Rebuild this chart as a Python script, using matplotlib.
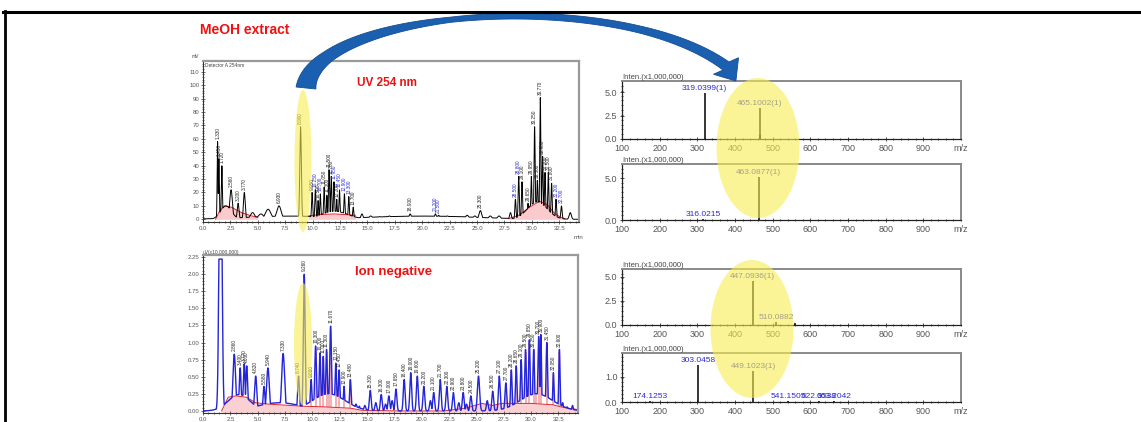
import numpy as np
import matplotlib
matplotlib.use("Agg")
import matplotlib.pyplot as plt
from matplotlib.patches import Ellipse, Polygon
from matplotlib.lines import Line2D
from matplotlib.ticker import MultipleLocator, FixedLocator, FormatStrFormatter

plt.rcParams['font.family'] = ['Liberation Sans', 'DejaVu Sans']

W, H = 1141, 422

# ---------------- UV 254 nm chromatogram (MeOH extract) ----------------
# retention time (min), peak height (mV), peak sigma (min)
uv_rt = [1.33, 1.45, 1.72, 2.10, 2.56, 3.20, 3.77, 4.52, 5.28, 5.94, 6.93, 8.90,
         9.95, 10.25, 10.50, 10.70, 11.05, 11.30, 11.50, 11.70, 11.95, 12.20, 12.45,
         12.90, 13.30, 13.70, 12.00, 14.50,
         15.30, 16.10, 17.00, 18.00, 18.90, 19.80, 20.60, 21.20, 21.50, 22.30, 23.20,
         24.10, 24.80, 25.30, 26.20, 27.00, 8.00, 20.00,
         28.05, 28.50, 28.80, 29.10, 29.65, 29.95, 30.25, 30.50, 30.77, 30.98, 31.20,
         31.50, 31.80, 32.20, 32.70, 33.50, 30.50]
uv_height = [58, 45, 40, 10, 22, 12, 20, 5, 4, 7.5, 10, 69,
             20, 22, 14, 19, 24, 18, 37, 32, 28, 15, 22,
             19, 17, 9, 6, 4,
             2.5, 2, 2.5, 2, 4, 2.5, 2, 4, 3, 2.5, 2,
             3, 2.5, 6.5, 2.5, 2.5, 2.4, 2.4,
             5, 15, 32, 28, 12, 32, 69, 29, 91, 47, 35,
             35, 27, 15, 10, 5, 13]
uv_sigma = [0.04, 0.04, 0.05, 0.5, 0.12, 0.08, 0.08, 0.2, 0.25, 0.25, 0.2, 0.07,
            0.05, 0.05, 0.04, 0.05, 0.05, 0.04, 0.05, 0.05, 0.05, 0.04, 0.05,
            0.05, 0.05, 0.05, 1.2, 0.1,
            0.15, 0.15, 0.15, 0.15, 0.1, 0.15, 0.15, 0.08, 0.08, 0.15, 0.15,
            0.15, 0.15, 0.12, 0.15, 0.15, 4.0, 5.0,
            0.08, 0.05, 0.05, 0.05, 0.05, 0.05, 0.05, 0.05, 0.05, 0.05, 0.05,
            0.05, 0.05, 0.05, 0.06, 0.1, 0.9]
uv_blue_rt = [10.25, 10.70, 11.95, 12.45, 12.90, 13.30, 21.20, 21.50, 28.50, 28.80, 32.20, 32.70]

# red integration baselines
uv_base1_t = [1.15, 1.5, 1.95, 2.6, 3.5, 4.4, 5.0]
uv_base1_v = [0, 6, 10, 9, 5, 2.6, 1.5]
uv_base2_t = [9.6, 10.5, 12.0, 13.0, 13.9]
uv_base2_v = [2.5, 3.5, 4.0, 3.5, 3.0]
uv_base3_t = [27.9, 28.8, 29.8, 30.7, 31.4, 32.0, 32.6, 33.0]
uv_base3_v = [0.5, 3, 9, 13.5, 11, 5, 1.5, 0.5]

# ---------------- Ion negative TIC ----------------
ion_rt = [1.60, 2.86, 3.40, 3.77, 4.00, 4.82, 5.58, 5.94, 7.33, 8.74, 9.26,
          9.89, 10.30, 10.70, 11.00, 11.30, 11.67, 12.15, 12.45, 12.90, 13.48, 14.30,
          15.30, 16.30, 17.00, 17.65, 18.40, 19.00, 19.60, 20.20, 21.10, 21.70, 22.30,
          22.90, 23.80, 24.50, 25.20, 26.50, 27.10, 27.70, 28.20, 28.65, 29.10, 29.50,
          29.85, 30.25, 30.70, 30.90, 31.45, 32.05, 32.60, 32.90,
          14.00, 14.80, 15.80, 16.70, 17.30, 20.80, 23.40, 24.10, 26.00, 33.30, 33.80,
          3.30, 7.00, 11.50, 30.50]
ion_height = [5.0, 0.83, 0.63, 0.69, 0.66, 0.51, 0.36, 0.63, 0.84, 0.51, 2.00,
              0.46, 0.95, 0.85, 0.80, 0.90, 1.24, 0.70, 0.60, 0.36, 0.46, 0.07,
              0.30, 0.24, 0.22, 0.32, 0.46, 0.56, 0.51, 0.36, 0.27, 0.46, 0.36,
              0.27, 0.27, 0.22, 0.51, 0.29, 0.51, 0.41, 0.60, 0.66, 0.75, 0.90,
              1.04, 0.90, 1.09, 1.12, 1.00, 0.56, 0.90, 0.12,
              0.10, 0.08, 0.12, 0.10, 0.15, 0.15, 0.12, 0.10, 0.15, 0.06, 0.08,
              0.24, 0.12, 0.25, 0.25]
ion_sigma = [0.12, 0.12, 0.08, 0.08, 0.08, 0.1, 0.08, 0.12, 0.13, 0.08, 0.08,
             0.07, 0.08, 0.07, 0.06, 0.07, 0.08, 0.07, 0.07, 0.06, 0.07, 0.06,
             0.08, 0.08, 0.08, 0.08, 0.08, 0.08, 0.08, 0.08, 0.08, 0.08, 0.08,
             0.08, 0.08, 0.08, 0.1, 0.08, 0.08, 0.08, 0.07, 0.07, 0.07, 0.07,
             0.07, 0.07, 0.07, 0.06, 0.07, 0.06, 0.06, 0.06,
             0.08, 0.08, 0.08, 0.08, 0.08, 0.08, 0.08, 0.08, 0.08, 0.06, 0.06,
             1.0, 2.0, 1.5, 1.5]
ion_base_t = [1.7, 2.3, 3.0, 4.0, 4.8, 6.0, 8.0, 9.0, 11.0, 13.5, 14.5, 18.0,
              22.0, 24.0, 25.5, 26.5, 27.3, 30.0, 32.0, 33.0, 34.3]
ion_base_v = [0.0, 0.20, 0.22, 0.20, 0.12, 0.10, 0.08, 0.07, 0.06, 0.04, 0.01, 0.0,
              0.0, 0.04, 0.11, 0.08, 0.11, 0.11, 0.09, 0.05, 0.02]

# ---------------- MS spectra (m/z, intensity x1,000,000, label) ----------------
ms1_mz = [319.0399, 465.1002, 466.10]
ms1_int = [4.9, 3.3, 0.4]
ms1_lab = ["319.0399(1)", "465.1002(1)", ""]

ms2_mz = [316.0215, 463.0877]
ms2_int = [0.15, 5.1]
ms2_lab = ["316.0215", "463.0877(1)"]

ms3_mz = [447.0936, 510.0882, 560.0]
ms3_int = [4.6, 0.3, 0.25]
ms3_lab = ["447.0936(1)", "510.0882", ""]

ms4_mz = [174.1253, 303.0458, 449.1023, 541.1505, 622.3538, 663.2042]
ms4_int = [0.06, 1.5, 1.25, 0.04, 0.06, 0.06]
ms4_lab = ["174.1253", "303.0458", "449.1023(1)", "541.1505", "622.3538", "663.2042"]

mz_ticks = [100, 200, 300, 400, 500, 600, 700, 800, 900]
time_ticks = [0.0, 2.5, 5.0, 7.5, 10.0, 12.5, 15.0, 17.5, 20.0, 22.5, 25.0, 27.5, 30.0, 32.5]

# ---------------------------------------------------------------
fig = plt.figure(figsize=(W / 100, H / 100), dpi=100)
fig.patch.set_facecolor('white')


def rect(l, t, r, b):
    return [l / W, 1 - b / H, (r - l) / W, (b - t) / H]


def fxy(px, py):
    return px / W, 1 - py / H


t = np.linspace(0, 34.3, 4000)


def envelope(rt, h, s):
    rt = np.asarray(rt)[:, None]
    h = np.asarray(h)[:, None]
    s = np.asarray(s)[:, None]
    return (h * np.exp(-0.5 * ((t[None, :] - rt) / s) ** 2)).max(axis=0)


def style_chrom(ax):
    for s in ('top', 'right'):
        ax.spines[s].set_color('#9a9a9a')
        ax.spines[s].set_linewidth(1.6)
    for s in ('left', 'bottom'):
        ax.spines[s].set_color('#333333')
        ax.spines[s].set_linewidth(0.8)
    ax.tick_params(which='both', direction='inout', labelsize=4.3, colors='#333333',
                   labelcolor='#555555', length=2.2, width=0.5, pad=1.5)
    ax.tick_params(which='minor', length=1.3)
    ax.set_xlim(0, 34.3)
    ax.xaxis.set_major_locator(FixedLocator(time_ticks))
    ax.xaxis.set_major_formatter(FormatStrFormatter('%.1f'))
    ax.xaxis.set_minor_locator(MultipleLocator(0.5))


# ---- UV chromatogram
ax_uv = fig.add_axes(rect(203, 61, 579, 222))
uv = envelope(uv_rt, uv_height, uv_sigma)
for bt, bv in [(uv_base1_t, uv_base1_v), (uv_base2_t, uv_base2_v), (uv_base3_t, uv_base3_v)]:
    ax_uv.fill_between(bt, 0, bv, color='#f6a0a4', alpha=0.55, lw=0)
    ax_uv.plot(bt, bv, color='#e3262e', lw=0.7)
ax_uv.plot(t, uv, color='black', lw=0.7)
for rt, h, s in zip(uv_rt, uv_height, uv_sigma):
    if (h >= 9 and s < 0.3) or rt in (18.90, 21.20, 21.50, 25.30):
        c = '#2a2ad0' if rt in uv_blue_rt else '#222222'
        ax_uv.text(rt, h + 2, f"{rt:.3f}", rotation=90, fontsize=3.4, ha='center',
                   va='bottom', color=c, clip_on=True)
ax_uv.set_ylim(-2, 118)
style_chrom(ax_uv)
ax_uv.set_yticks(list(range(0, 111, 10)))
ax_uv.yaxis.set_minor_locator(MultipleLocator(2))
ax_uv.yaxis.set_major_formatter(FormatStrFormatter('%d'))
ax_uv.text(-0.01, 1.01, "mV", transform=ax_uv.transAxes, fontsize=3.5, color='#444444',
           ha='right', va='bottom')
ax_uv.text(0.005, 0.985, "Detector A 254nm", transform=ax_uv.transAxes, fontsize=3.5,
           color='#444444', ha='left', va='top')
ax_uv.text(1.0, -0.08, "min", transform=ax_uv.transAxes, fontsize=4.3,
           color='#555555', ha='center', va='top')

# ---- Ion negative chromatogram
ax_ion = fig.add_axes(rect(203, 255, 578, 413))
ion = np.minimum(envelope(ion_rt, ion_height, ion_sigma), 2.22)
ax_ion.fill_between(ion_base_t, -0.02, ion_base_v, color='#fbd0d2', lw=0)
base_at_peak = np.interp(ion_rt, ion_base_t, ion_base_v)
for rt, h, b in zip(ion_rt, ion_height, base_at_peak):
    if 0.2 <= h <= 2.1 and (9.5 < rt < 14 or 27.5 < rt < 33):
        ax_ion.vlines(rt, b, h * 0.95, color='#f29a9c', lw=1.1)
ax_ion.plot(ion_base_t, ion_base_v, color='#e3262e', lw=0.7)
ax_ion.plot(t, ion, color='#2424d8', lw=1.0)
for rt, h, s in zip(ion_rt, ion_height, ion_sigma):
    if 0.2 <= h <= 2.1 and s < 0.5:
        ax_ion.text(rt, h + 0.04, f"{rt:.3f}", rotation=90, fontsize=3.4, ha='center',
                    va='bottom', color='#222222', clip_on=True)
ax_ion.set_ylim(-0.03, 2.28)
style_chrom(ax_ion)
ax_ion.set_yticks([0.0, 0.25, 0.5, 0.75, 1.0, 1.25, 1.5, 1.75, 2.0, 2.25])
ax_ion.yaxis.set_major_formatter(FormatStrFormatter('%.2f'))
ax_ion.yaxis.set_minor_locator(MultipleLocator(0.05))
ax_ion.text(0.0, 1.0, "uV(x10,000,000)", transform=ax_ion.transAxes, fontsize=3.5,
            color='#444444', ha='left', va='bottom')


# ---- MS spectra
def ms_panel(box, mz, inten, labels, ymax, yticks):
    ax = fig.add_axes(rect(*box))
    ax.vlines(mz, 0, inten, color='black', lw=1.1)
    for m, i, lab in zip(mz, inten, labels):
        if lab:
            ax.text(m, i + ymax * 0.02, lab, ha='center', va='bottom', fontsize=6,
                    color='#2b2bd6')
    ax.set_xlim(100, 1000)
    ax.set_ylim(0, ymax)
    ax.xaxis.set_major_locator(FixedLocator(mz_ticks))
    ax.xaxis.set_minor_locator(MultipleLocator(20))
    ax.set_yticks(yticks)
    ax.yaxis.set_major_formatter(FormatStrFormatter('%.1f'))
    ax.yaxis.set_minor_locator(MultipleLocator(ymax / 12))
    for s in ('top', 'right'):
        ax.spines[s].set_color('#8a8a8a')
        ax.spines[s].set_linewidth(1.4)
    for s in ('left', 'bottom'):
        ax.spines[s].set_color('#222222')
        ax.spines[s].set_linewidth(0.9)
    ax.tick_params(which='both', direction='inout', labelsize=6.5, colors='#333333',
                   labelcolor='#555555', length=2.5, width=0.6, pad=2)
    ax.tick_params(which='minor', length=1.5)
    ax.annotate("m/z", xy=(1.0, 0.0), xycoords='axes fraction', xytext=(0, -3.3),
                textcoords='offset points', fontsize=6.5, color='#555555',
                ha='center', va='top')
    ax.text(0.0, 1.0, "Inten.(x1,000,000)", transform=ax.transAxes, fontsize=5.5,
            color='#444444', ha='left', va='bottom')
    return ax


ms_panel((622, 81, 961, 139), ms1_mz, ms1_int, ms1_lab, 6.2, [0, 2.5, 5.0])
ms_panel((622, 164, 961, 220), ms2_mz, ms2_int, ms2_lab, 6.67, [0, 5.0])
ms_panel((622, 269, 961, 325), ms3_mz, ms3_int, ms3_lab, 5.83, [0, 2.5, 5.0])
ms_panel((622, 353, 961, 402), ms4_mz, ms4_int, ms4_lab, 1.96, [0, 1.0])

# ---- yellow highlight ellipses
for cx, cy, ew, eh in [(303, 161, 17, 142), (303, 344, 18, 122),
                       (758, 148, 83, 140), (752, 329, 83, 138)]:
    x0, y0 = fxy(cx, cy)
    fig.add_artist(Ellipse((x0, y0), ew / W, eh / H, transform=fig.transFigure,
                           facecolor='#f7ee50', edgecolor='none', alpha=0.6, zorder=10))

# ---- curved blue arrow linking the peak to its spectra
P = np.array([[306, 88], [314, 10], [615, -15], [726, 66]], dtype=float)
u = np.linspace(0, 1, 200)[:, None]
curve = ((1 - u) ** 3) * P[0] + 3 * ((1 - u) ** 2) * u * P[1] + 3 * (1 - u) * u ** 2 * P[2] + u ** 3 * P[3]
d = (-3 * (1 - u) ** 2) * P[0] + (3 * (1 - u) ** 2 - 6 * (1 - u) * u) * P[1] + \
    (6 * (1 - u) * u - 3 * u ** 2) * P[2] + 3 * u ** 2 * P[3]
d /= np.linalg.norm(d, axis=1, keepdims=True)
nrm = np.column_stack([d[:, 1], -d[:, 0]])
half = np.interp(u[:, 0], [0, 0.15, 0.45, 0.8, 1.0], [10, 6, 2.6, 3.5, 5])[:, None]
side_a = curve + nrm * half
side_b = curve - nrm * half
end_dir = np.array([0.55, 0.835])
end_nrm = np.array([end_dir[1], -end_dir[0]])
tip = P[3] + end_dir * 18
head = [P[3] + end_nrm * 15, tip, P[3] - end_nrm * 15]
outline = np.vstack([side_a, head, side_b[::-1]])
outline_fig = np.column_stack([outline[:, 0] / W, 1 - outline[:, 1] / H])
fig.add_artist(Polygon(outline_fig, closed=True, transform=fig.transFigure,
                       facecolor='#1b5fb0', edgecolor='#154d92', lw=0.6, zorder=11))

# ---- captions
fig.text(*fxy(200, 30), "MeOH extract", color='#ee1111', fontsize=10, fontweight='bold',
         ha='left', va='center', zorder=12)
fig.text(*fxy(357, 83), "UV 254 nm", color='#ee1111', fontsize=8.5, fontweight='bold',
         ha='left', va='center', zorder=12)
fig.text(*fxy(355, 272), "Ion negative", color='#ee1111', fontsize=9.5, fontweight='bold',
         ha='left', va='center', zorder=12)

# ---- outer frame
fig.add_artist(Line2D([3 / W, 1.0], [1 - 11.5 / H, 1 - 11.5 / H], transform=fig.transFigure,
                      color='black', lw=2.2, zorder=12))
fig.add_artist(Line2D([4.5 / W, 4.5 / W], [1 - 11 / H, 0], transform=fig.transFigure,
                      color='black', lw=2.0, zorder=12))

fig.savefig("out.png", dpi=100)
